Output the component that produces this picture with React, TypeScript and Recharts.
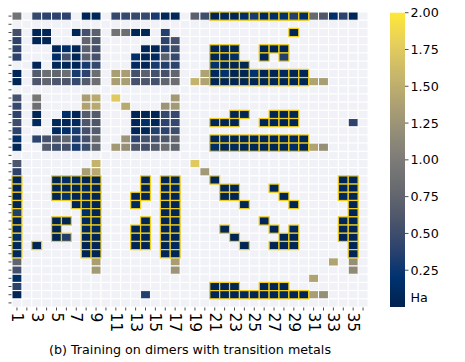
import React from 'react';
import { ScatterChart, Scatter, XAxis, YAxis } from 'recharts';

// ---------- data ----------
// column / row categories (heatmap is 36 x 36)
const columnIds = [1,2,3,4,5,6,7,8,9,10,11,12,13,14,15,16,17,18,19,20,21,22,23,24,25,26,27,28,29,30,31,32,33,34,35,36];
const rowIds = [1,2,3,4,5,6,7,8,9,10,11,12,13,14,15,16,17,18,19,20,21,22,23,24,25,26,27,28,29,30,31,32,33,34,35,36];
const xTickLabels = ['1','3','5','7','9','11','13','15','17','19','21','23','25','27','29','31','33','35'];
const colorbarTicks = [0.25, 0.5, 0.75, 1.0, 1.25, 1.5, 1.75, 2.0];
const caption = '(b) Training on dimers with transition metals';
const unitLabel = 'Ha';

// error values in Ha, per row: { column: value }
const topBlock: Record<number, number>[] = [
  {1:.9,3:.45,4:.4,5:.4,6:.4,8:.05,9:.05,11:.45,12:.45,13:.45,14:.45,15:.3,16:.05,17:.05,19:.7,20:.5,21:.05,22:.08,23:.05,24:.15,25:.3,26:.1,27:.15,28:.2,29:.35,30:.15,31:.8,32:.6,33:.15,34:.4,35:.05},
  {},
  {1:.55,3:.05,4:.05,7:.05,8:.55,9:.7,11:.9,12:.85,13:.05,14:.05,16:.35,29:.05},
  {1:.4,3:.05,4:.05,8:.75,9:.6,16:.4,17:.55},
  {1:.4,5:.05,6:.15,7:.05,8:.7,9:.55,14:.05,15:.05,16:.35,17:.5,21:.05,22:.05,23:.05,26:.05,27:.05,28:.05},
  {1:.4,5:.15,6:.55,7:.05,8:.7,9:.55,13:.15,14:.05,15:.1,16:.7,17:.45,21:.05,22:.05,23:.15,26:.05,28:.35},
  {3:.05,5:.05,6:.05,7:.05,8:.3,9:.45,13:.1,14:.05,15:.3,16:.35,17:.4,21:.2,22:.05,23:.05,24:.05},
  {1:.05,3:.65,4:.85,5:.75,6:.85,7:.3,8:.4,9:.85,11:1.35,12:1.35,13:.55,14:.7,15:.55,16:.55,17:.75,20:1.4,21:.1,22:.2,23:.05,24:.05,25:.2,26:.05,27:.05,28:.1,29:.05,30:.05},
  {1:.05,3:.6,4:.75,5:.6,6:.6,7:.45,8:.65,9:.85,11:1.35,12:1.35,13:.55,14:.6,15:.55,16:.75,17:.85,19:1.55,20:1.4,21:.05,22:.05,23:.05,24:.05,25:.05,26:.05,27:.05,28:.05,29:.05,30:.05,31:1.4,32:1.35},
  {},
  {1:.55,3:.95,8:1.35,9:1.45,11:1.75,17:1.3},
  {1:.45,3:.85,8:1.4,9:1.45,12:1.45,16:1.25,17:1.3},
];
const midBlock: Record<number, number>[] = [
  {1:.4,3:.05,6:.15,7:.05,8:.65,9:.65,13:.05,14:.05,15:.05,16:.45,17:.45,23:.05,24:.05,27:.05,28:.05,29:.05},
  {1:.5,3:.1,5:.05,6:.05,7:.1,8:.6,9:.6,13:.05,14:.15,15:.05,16:.4,17:.45,21:.05,22:.05,23:.05,26:.05,27:.05,28:.05,29:.05,35:.4},
  {1:.4,5:.1,6:.15,7:.3,8:.55,9:.65,13:.05,14:.05,15:.35,16:.4,17:.5},
  {1:.15,3:.4,4:.55,5:.6,6:.75,7:.35,8:.55,9:.8,12:1.25,13:.4,14:.55,15:.55,16:.6,17:.75,21:.05,22:.1,23:.05,24:.05,25:.05,26:.05,27:.05,28:.05,29:.1,30:.05},
  {1:.05,4:.65,5:.5,6:.55,7:.3,8:.5,9:.75,11:1.3,12:1.2,13:.6,14:.55,15:.65,16:.85,17:.75,21:.15,22:.05,23:.1,24:.05,25:.05,26:.05,27:.05,28:.05,29:.15,30:.05,31:1.4,32:1.2},
  {},
  {1:.6,9:1.55,19:1.75},
  {1:.4,8:1.35,9:1.45,20:1.3},
];
const lowBlock: Record<number, number>[] = [
  {1:.05,5:.05,6:.15,7:.1,8:.05,9:.05,14:.05,16:.05,17:.05,21:.05,34:.05,35:.05},
  {1:.05,5:.05,6:.05,7:.05,8:.1,9:.05,14:.05,16:.05,17:.1,22:.05,23:.05,27:.05,34:.1,35:.05},
  {1:.05,5:.05,6:.2,7:.05,8:.1,9:.05,13:.05,14:.05,16:.05,17:.05,22:.05,23:.05,28:.05,34:.1,35:.05},
  {1:.05,7:.05,8:.1,9:.05,13:.1,16:.05,17:.05,24:.05,29:.05,35:.05},
  {1:.35,8:.15,9:.05,16:.05,17:.05,35:.05},
  {1:.05,5:.05,6:.05,8:.1,9:.05,14:.05,16:.05,17:.05,26:.05,34:.05,35:.05},
  {1:.1,5:.05,8:.1,9:.1,13:.05,14:.05,16:.05,17:.05,22:.05,27:.05,29:.1,34:.05,35:.05},
  {1:.15,5:.05,6:.35,8:.05,9:.05,13:.05,14:.05,16:.05,17:.05,23:.05,28:.05,29:.05,34:.05,35:.05},
  {1:.1,3:.05,8:.05,9:.05,13:.05,14:.05,16:.05,17:.1,24:.05,27:.05,28:.05,29:.05,35:.05},
  {1:.1,8:.05,9:.05,16:.05,17:.05,35:.05},
  {1:.75,9:1.35,17:1.35,33:1.4,35:1.2},
  {1:.55,9:1.3,17:1.25,35:1.15},
  {1:.15,31:1.4},
  {1:.4,21:.05,22:.05,23:.05,26:.05,27:.05,28:.05},
  {1:.05,14:.35,21:.05,22:.05,23:.05,24:.1,25:.05,26:.05,27:.05,28:.1,29:.05,30:.05,31:1.35,32:1.2},
  {},
];

// cells outlined in gold (training pairs): row -> columns
const trainingCells: Record<number, number[]> = {
  1: [21,22,23,24,25,26,27,28,29,30],
  3: [29],
  5: [21,22,23,26,27,28],
  6: [21,22,23,26,28],
  7: [21,22,23,24],
  8: [21,22,23,24,25,26,27,28,29,30],
  9: [21,22,23,24,25,26,27,28,29,30],
  13: [23,24,27,28,29],
  14: [21,22,23,26,27,28,29],
  16: [21,22,23,24,25,26,27,28,29,30],
  17: [21,22,23,24,25,26,27,28,29,30],
  21: [1,5,6,7,8,9,14,16,17,21,34,35],
  22: [1,5,6,7,8,9,14,16,17,22,23,27,34,35],
  23: [1,5,6,7,8,9,13,14,16,17,22,23,28,34,35],
  24: [1,7,8,9,13,16,17,24,29,35],
  25: [1,8,9,16,17,35],
  26: [1,5,6,8,9,14,16,17,26,34,35],
  27: [1,5,8,9,13,14,16,17,22,27,29,34,35],
  28: [1,5,6,8,9,13,14,16,17,23,28,29,34,35],
  29: [1,3,8,9,13,14,16,17,24,27,28,29,35],
  30: [1,8,9,16,17,35],
  34: [21,22,23,26,27,28],
  35: [21,22,23,24,25,26,27,28,29,30],
};

// ---------- styling / layout ----------
const W = 465, H = 362;
const PLOT_LEFT = 12, PLOT_TOP = 12, PLOT_W = 356, PLOT_H = 295;
const CW = PLOT_W / columnIds.length;
const CH = PLOT_H / rowIds.length;
const EMPTY = '#f1f2f7';
const GOLD = '#f2cf1d';
const FONT = 'DejaVu Sans, Verdana, sans-serif';

const CIVIDIS: [number, number, number][] = [
  [0, 34, 78], [0, 50, 112], [45, 67, 109], [77, 86, 107], [103, 106, 111],
  [124, 123, 120], [149, 143, 119], [176, 163, 114], [203, 185, 105], [231, 208, 91], [254, 232, 56],
];
function cividis(t: number): string {
  const c = Math.max(0, Math.min(1, t)) * 10;
  const i = Math.min(9, Math.floor(c));
  const f = c - i;
  const a = CIVIDIS[i], b = CIVIDIS[i + 1];
  const m = (k: number) => Math.round(a[k] + (b[k] - a[k]) * f);
  return `rgb(${m(0)},${m(1)},${m(2)})`;
}

type CellDatum = { x: number; y: number; v: number | null; hl: boolean };
const allRows = [...topBlock, ...midBlock, ...lowBlock];
const emptyCells: CellDatum[] = [];
const valueCells: CellDatum[] = [];
const trainCells: CellDatum[] = [];
rowIds.forEach((r, ri) => {
  const rowMap = allRows[ri] || {};
  const hlCols = trainingCells[r] || [];
  columnIds.forEach((c) => {
    const v = rowMap[c];
    const hl = hlCols.includes(c);
    if (v === undefined) emptyCells.push({ x: c, y: r, v: null, hl: false });
    else if (hl) trainCells.push({ x: c, y: r, v, hl: true });
    else valueCells.push({ x: c, y: r, v, hl: false });
  });
});

const CellShape = (props: any) => {
  const { cx, cy, payload } = props;
  if (cx == null || cy == null) return <g />;
  const fill = payload.v == null ? EMPTY : cividis(payload.v / 2);
  return (
    <rect
      x={cx - CW / 2}
      y={cy - CH / 2}
      width={CW}
      height={CH}
      fill={fill}
      stroke={payload.hl ? GOLD : '#ffffff'}
      strokeWidth={payload.hl ? 1.2 : 1}
    />
  );
};

const XTick = (props: any) => {
  const { x, y, payload } = props;
  const label = String(payload.value);
  if (!xTickLabels.includes(label)) return <g />;
  return (
    <text
      transform={`translate(${x},${y}) rotate(90)`}
      textAnchor="start"
      dominantBaseline="central"
      fontSize={15.5}
      fontFamily={FONT}
      fill="#000"
    >
      {label}
    </text>
  );
};

const NoTick = () => <g />;

const CB_X = 390, CB_W = 15, CB_TOP = 12.7, CB_BOTTOM = 307;
const cbY = (v: number) => CB_BOTTOM - (v / 2) * (CB_BOTTOM - CB_TOP);

export default function App() {
  return (
    <div style={{ position: 'absolute', left: 0, top: 0, width: W, height: H, background: '#fff' }}>
      <ScatterChart
        width={W}
        height={H}
        margin={{ top: PLOT_TOP, right: W - PLOT_LEFT - PLOT_W, bottom: 0, left: 0 }}
      >
        <XAxis
          type="number"
          dataKey="x"
          domain={[0.5, 36.5]}
          ticks={columnIds}
          interval={0}
          axisLine={false}
          tickSize={3.5}
          tickLine={{ stroke: '#222', strokeWidth: 0.8 }}
          tick={<XTick />}
          height={H - PLOT_TOP - PLOT_H}
        />
        <YAxis
          type="number"
          dataKey="y"
          domain={[0.5, 36.5]}
          reversed
          ticks={rowIds}
          interval={0}
          axisLine={false}
          tickSize={3.5}
          tickLine={{ stroke: '#222', strokeWidth: 0.8 }}
          tick={<NoTick />}
          width={PLOT_LEFT}
        />
        <Scatter data={emptyCells} shape={CellShape} isAnimationActive={false} />
        <Scatter data={valueCells} shape={CellShape} isAnimationActive={false} />
        <Scatter data={trainCells} shape={CellShape} isAnimationActive={false} />
      </ScatterChart>
      <svg width={W} height={H} style={{ position: 'absolute', left: 0, top: 0, pointerEvents: 'none' }}>
        <defs>
          <linearGradient id="cividisGrad" x1="0" y1="1" x2="0" y2="0">
            {CIVIDIS.map((_, i) => (
              <stop key={i} offset={`${i * 10}%`} stopColor={cividis(i / 10)} />
            ))}
          </linearGradient>
        </defs>
        <rect x={CB_X} y={CB_TOP} width={CB_W} height={CB_BOTTOM - CB_TOP} fill="url(#cividisGrad)" />
        {colorbarTicks.map((t) => (
          <g key={t}>
            <line x1={CB_X + CB_W} x2={CB_X + CB_W + 3.5} y1={cbY(t)} y2={cbY(t)} stroke="#222" strokeWidth={0.8} />
            <text x={CB_X + CB_W + 5.5} y={cbY(t)} dominantBaseline="central" fontSize={12.7} fontFamily={FONT} fill="#000">
              {t.toFixed(2)}
            </text>
          </g>
        ))}
        <text x={CB_X + CB_W + 5.5} y={297.5} dominantBaseline="central" fontSize={12.7} fontFamily={FONT} fill="#000">
          {unitLabel}
        </text>
        <text x={PLOT_LEFT + PLOT_W / 2} y={353.5} textAnchor="middle" fontSize={12.7} fontFamily={FONT} fill="#000">
          {caption}
        </text>
      </svg>
    </div>
  );
}
